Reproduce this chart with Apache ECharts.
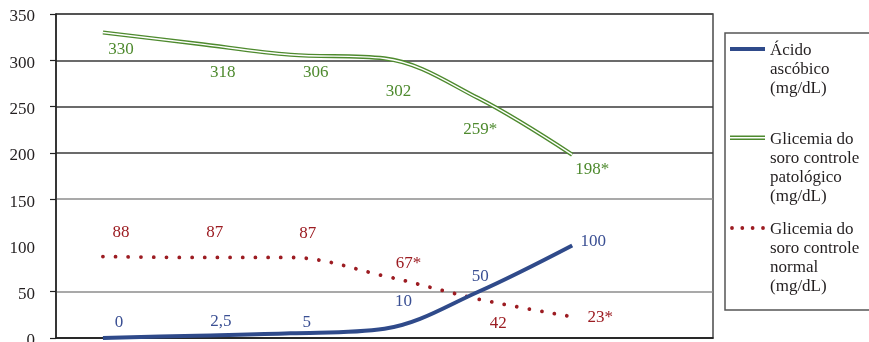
<!DOCTYPE html>
<html>
<head>
<meta charset="utf-8">
<script src="https://cdn.jsdelivr.net/npm/echarts@6/dist/echarts.min.js"></script>
<style>
  html, body { margin: 0; padding: 0; background: #ffffff; }
  #chart { width: 869px; height: 342px; }
</style>
</head>
<body>
<div id="chart"></div>
<script>
// Sampling points along the x axis (last slot left empty)
const categories = ['1', '2', '3', '4', '5', '6', '7'];

// Ascorbic acid concentration (mg/dL)
const acidoAscorbico = [0, 2.5, 5, 10, 50, 100];
// Serum glucose, pathological control (mg/dL) and significance flags
const glicemiaPatologico = [330, 318, 306, 302, 259, 198];
const sigPatologico = [false, false, false, false, true, true];
// Serum glucose, normal control (mg/dL) and significance flags
const glicemiaNormal = [88, 87, 87, 67, 42, 23];
const sigNormal = [false, false, false, true, false, true];

// Y axis ticks (no tick/grid line at 100) and labels
const yTicks = [0, 50, 150, 200, 250, 300, 350];
const yLabels = [0, 50, 100, 150, 200, 250, 300, 350];

const names = {
  acido: 'Ácido ascóbico (mg/dL)',
  patologico: 'Glicemia do soro controle patológico (mg/dL)',
  normal: 'Glicemia do soro controle normal (mg/dL)'
};

const colors = {
  blue: '#2f4a8a',
  blueText: '#3a4f93',
  green: '#4e8a2e',
  red: '#9c1c22',
  text: '#231f20'
};

const FONT = '"Liberation Serif", "Times New Roman", serif';

// Label offsets relative to each point (px)
const offAcido = [[16, -15], [24, -14], [16, -11], [19, -27], [2, -15], [21, -4]];
const offPatologico = [[18, 17], [26, 29], [25, 18], [14, 33], [2, 31], [20, 15]];
const offNormal = [[18, -24], [18, -25], [17, -24], [24, -12], [20, 24], [28, 1]];

function fmt(v) {
  return String(v).replace('.', ',');
}

function buildData(values, offsets, flags) {
  return values.map((v, i) => ({
    value: v,
    label: {
      offset: offsets[i],
      formatter: fmt(v) + (flags && flags[i] ? '*' : '')
    }
  }));
}

function labelStyle(color) {
  return {
    show: true,
    position: 'inside',
    color: color,
    fontFamily: FONT,
    fontSize: 17
  };
}

const hiddenSymbol = {
  symbol: 'circle',
  symbolSize: 1,
  itemStyle: { color: 'rgba(0,0,0,0)' }
};

// Legend icons: tiny corner squares fix the icon box, mark sits near the top
function iconBox(h, mark) {
  return 'path://M0,0h0.01v0.01h-0.01Z ' + mark + ' M34.99,' + (h - 0.01) + 'h0.01v0.01h-0.01Z';
}
function dot(cx, cy, r) {
  return 'M' + (cx - r) + ',' + cy + ' a' + r + ',' + r + ' 0 1,0 ' + (2 * r) + ',0 a' + r + ',' + r + ' 0 1,0 ' + (-2 * r) + ',0Z';
}
const iconAcido = iconBox(57, 'M0,6H35V10H0Z');
const iconPatologico = iconBox(76, 'M0,5.6H35V7.1H0Z M0,8.6H35V10.1H0Z');
const iconNormal = iconBox(76, [dot(2, 8, 1.9), dot(12.3, 8, 1.9), dot(22.6, 8, 1.9), dot(33, 8, 1.9)].join(' '));

function legendText(name) {
  const map = {};
  map[names.acido] = 'Ácido\nascóbico\n(mg/dL)';
  map[names.patologico] = 'Glicemia do\nsoro controle\npatológico\n(mg/dL)';
  map[names.normal] = 'Glicemia do\nsoro controle\nnormal\n(mg/dL)';
  return map[name];
}

function legendFor(name, icon, color, top, h) {
  return {
    show: true,
    orient: 'vertical',
    left: 730,
    top: top,
    padding: 0,
    itemGap: 0,
    itemWidth: 35,
    itemHeight: h,
    selectedMode: false,
    itemStyle: { borderWidth: 0 },
    textStyle: { fontFamily: FONT, fontSize: 17, lineHeight: 19, color: colors.text },
    formatter: legendText,
    data: [{ name: name, icon: icon, itemStyle: { color: color, borderWidth: 0 } }]
  };
}

const chart = echarts.init(document.getElementById('chart'), null, { renderer: 'canvas' });

chart.setOption({
  animation: false,
  backgroundColor: '#ffffff',
  grid: {
    left: 56,
    right: 156,
    top: 14,
    bottom: 4,
    outerBoundsMode: 'none',
    containLabel: false,
    show: true,
    borderColor: '#4a4a4a',
    borderWidth: 1.5,
    backgroundColor: 'transparent'
  },
  xAxis: {
    type: 'category',
    data: categories,
    boundaryGap: true,
    axisLine: { show: true, lineStyle: { color: '#222', width: 1.5 } },
    axisTick: { show: false },
    axisLabel: { show: false },
    splitLine: { show: false }
  },
  yAxis: {
    type: 'value',
    min: 0,
    max: 350,
    interval: 50,
    axisLine: { show: true, lineStyle: { color: '#222', width: 1.5 } },
    axisTick: {
      show: true,
      inside: false,
      length: 6,
      customValues: yTicks,
      lineStyle: { color: '#222', width: 1.2 }
    },
    axisLabel: {
      show: true,
      margin: 21,
      verticalAlign: 'top',
      lineHeight: 6,
      customValues: yLabels,
      fontFamily: FONT,
      fontSize: 17,
      color: colors.text
    },
    splitLine: {
      show: true,
      lineStyle: {
        width: 1.5,
        color: ['#333333', '#8c8c8c', '#8c8c8c', '#3a3a3a', '#3a3a3a', '#3a3a3a', '#4a4a4a']
      }
    }
  },
  legend: [
    legendFor(names.acido, iconAcido, colors.blue, 41, 57),
    legendFor(names.patologico, iconPatologico, colors.green, 130, 76),
    legendFor(names.normal, iconNormal, colors.red, 220, 76)
  ],
  graphic: [
    {
      type: 'rect',
      shape: { x: 725, y: 33, width: 160, height: 277 },
      style: { fill: 'none', stroke: '#555555', lineWidth: 1.5 },
      silent: true,
      z: 0
    }
  ],
  series: [
    Object.assign({
      name: names.normal,
      type: 'line',
      smooth: 0.35,
      data: buildData(glicemiaNormal, offNormal, sigNormal),
      lineStyle: { color: colors.red, width: 3.8, type: [0.01, 12.7], cap: 'round' },
      label: labelStyle(colors.red),
      z: 2
    }, hiddenSymbol),
    Object.assign({
      name: names.patologico,
      type: 'line',
      smooth: 0.35,
      data: buildData(glicemiaPatologico, offPatologico, sigPatologico),
      lineStyle: { color: colors.green, width: 4.2 },
      label: labelStyle(colors.green),
      z: 3
    }, hiddenSymbol),
    Object.assign({
      name: 'patologico-miolo',
      type: 'line',
      smooth: 0.35,
      data: glicemiaPatologico,
      lineStyle: { color: '#ffffff', width: 1.4 },
      silent: true,
      label: { show: false },
      z: 4
    }, hiddenSymbol),
    Object.assign({
      name: names.acido,
      type: 'line',
      smooth: 0.35,
      data: buildData(acidoAscorbico, offAcido, null),
      lineStyle: { color: colors.blue, width: 4 },
      label: labelStyle(colors.blueText),
      z: 5
    }, hiddenSymbol)
  ]
});
</script>
</body>
</html>
